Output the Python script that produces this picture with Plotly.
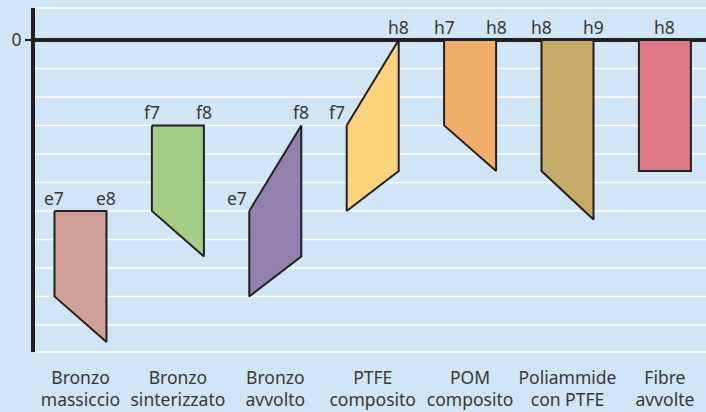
import plotly.graph_objects as go

categories = ["Bronzo<br>massiccio", "Bronzo<br>sinterizzato", "Bronzo<br>avvolto",
              "PTFE<br>composito", "POM<br>composito", "Poliammide<br>con PTFE", "Fibre<br>avvolte"]
left_labels = ["e7", "f7", "e7", "f7", "h7", "h8", "h8"]
right_labels = ["e8", "f8", "f8", "h8", "h8", "h9", "h8"]
left_top = [-60, -30, -60, -30, 0, 0, 0]
left_bot = [-90, -60, -90, -60, -30, -46, -46]
right_top = [-60, -30, -30, 0, 0, 0, 0]
right_bot = [-106, -76, -76, -46, -46, -63, -46]
colors = ["#d09f97", "#a6cd88", "#9280ad", "#fdd27d", "#f2ad6c", "#c5aa69", "#dc7986"]

BG = "#d0e5f5"
DARK = "#231f20"
TXT = "#383838"
FONT = "Noto Sans"
FS = 17.5
HW = 0.267

fig = go.Figure()
annotations = []
for i, cat in enumerate(categories):
    xs = [i - HW, i + HW, i + HW, i - HW, i - HW]
    ys = [left_top[i], right_top[i], right_bot[i], left_bot[i], left_top[i]]
    fig.add_trace(go.Scatter(x=xs, y=ys, fill="toself", fillcolor=colors[i], mode="lines",
                             line=dict(color=DARK, width=2), hoverinfo="skip", showlegend=False))
    if left_labels[i] == right_labels[i] and left_top[i] == right_top[i] and left_bot[i] == right_bot[i]:
        annotations.append(dict(x=i, y=left_top[i], text=left_labels[i], showarrow=False,
                                xanchor="center", yanchor="bottom", yshift=-1))
    else:
        annotations.append(dict(x=i - HW, y=left_top[i], text=left_labels[i], showarrow=False,
                                xanchor="right" if left_top[i] < right_top[i] else "center",
                                yanchor="bottom", yshift=-1))
        annotations.append(dict(x=i + HW, y=right_top[i], text=right_labels[i], showarrow=False,
                                xanchor="center", yanchor="bottom", yshift=-1))

shapes = []
for g in range(-100, 0, 10):
    shapes.append(dict(type="line", xref="paper", x0=0, x1=1, yref="y", y0=g, y1=g,
                       line=dict(color="white", width=1.5), layer="below"))
for yp in (0, 1):
    shapes.append(dict(type="line", xref="paper", x0=0, x1=1, yref="paper", y0=yp, y1=yp,
                       line=dict(color="white", width=1.5), layer="below"))

fig.update_layout(
    width=706, height=412,
    margin=dict(l=35, r=0, t=8, b=60, autoexpand=False),
    paper_bgcolor=BG, plot_bgcolor=BG,
    font=dict(family=FONT, size=FS, color=TXT),
    shapes=shapes,
    annotations=[dict(a, font=dict(family=FONT, size=FS, color=TXT)) for a in annotations],
    xaxis=dict(range=[-0.467, 6.422], tickvals=list(range(len(categories))), ticktext=categories,
               showgrid=False, zeroline=False, showline=False, ticks="", automargin=False,
               tickfont=dict(family=FONT, size=FS, color=TXT), ticklabelstandoff=13),
    yaxis=dict(range=[-109.5, 11.2], tickvals=[0], ticktext=["0"], showgrid=False,
               zeroline=True, zerolinecolor=DARK, zerolinewidth=3.5, automargin=False,
               showline=True, linecolor=DARK, linewidth=4,
               ticks="outside", ticklen=6, tickwidth=1.5, tickcolor=DARK,
               tickfont=dict(family=FONT, size=FS, color=TXT)),
)

fig.write_html("out.html", config={"displayModeBar": False},
               post_script="document.body.style.margin='0';document.body.style.background='%s';" % BG)
